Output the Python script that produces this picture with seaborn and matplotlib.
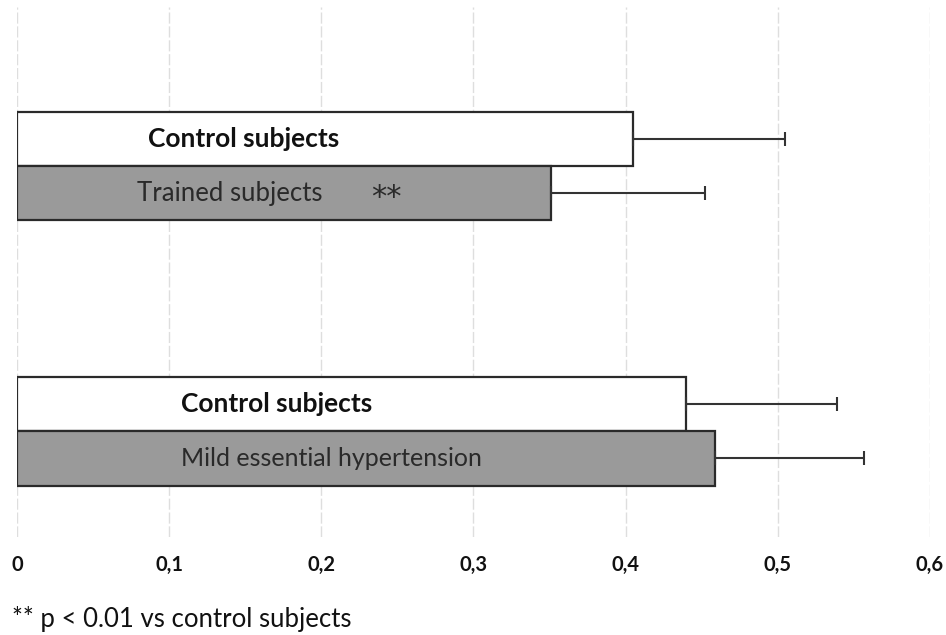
import matplotlib
matplotlib.use("Agg")
import matplotlib.pyplot as plt
import seaborn as sns
import pandas as pd
import numpy as np

# ---- data ----
groups = ["Training study", "Hypertension study"]
group_of = ["Training study", "Training study", "Hypertension study", "Hypertension study"]
kind = ["control", "treated", "control", "treated"]
values = [0.405, 0.351, 0.440, 0.459]
errors = [0.100, 0.101, 0.099, 0.098]
bar_labels = ["Control subjects", "Trained subjects", "Control subjects", "Mild essential hypertension"]
x_ticks = [0, 0.1, 0.2, 0.3, 0.4, 0.5, 0.6]
x_tick_labels = ["0", "0,1", "0,2", "0,3", "0,4", "0,5", "0,6"]
footnote = "** p < 0.01 vs control subjects"

df = pd.DataFrame({"group": group_of, "kind": kind, "value": values})

sns.set_theme(style="white")
plt.rcParams["font.family"] = ["Lato", "DejaVu Sans"]

fig = plt.figure(figsize=(9.46, 6.35), dpi=100)
ax = fig.add_axes([0.018, 0.154, 0.965, 0.835])

sns.barplot(data=df, y="group", x="value", hue="kind", order=groups,
            hue_order=["control", "treated"],
            palette={"control": "#ffffff", "treated": "#9a9a9a"},
            orient="h", width=0.41, edgecolor="#2a2a2a", linewidth=1.6,
            errorbar=None, legend=False, ax=ax)

bars = sorted(ax.patches, key=lambda p: p.get_y())
for p, v, e in zip(bars, values, errors):
    yc = p.get_y() + p.get_height() / 2
    ax.errorbar(v, yc, xerr=[[0], [e]], fmt="none", ecolor="#333333",
                elinewidth=1.5, capsize=5, capthick=1.5, zorder=1)

label_x = [0.086, 0.079, 0.108, 0.108]
label_w = ["bold", "normal", "bold", "normal"]
label_s = [19, 18.5, 19, 18]
label_c = ["#111111", "#2a2a2a", "#111111", "#2a2a2a"]
for p, t, lx, w, s, c in zip(bars, bar_labels, label_x, label_w, label_s, label_c):
    yc = p.get_y() + p.get_height() / 2
    ax.text(lx, yc, t, ha="left", va="center", fontsize=s, fontweight=w, color=c, zorder=3)
p = bars[1]
ax.text(0.233, p.get_y() + p.get_height() / 2 + 0.015, "**", ha="left", va="center",
        fontsize=22, color="#2a2a2a", zorder=3, family="DejaVu Sans")

ax.set_xlim(0, 0.6)
ax.set_ylim(1.4, -0.6)
ax.set_xticks(x_ticks)
ax.set_xticklabels(x_tick_labels, fontsize=14.5, fontweight="bold", color="#111111")
ax.set_yticks([])
ax.set_xlabel("")
ax.set_ylabel("")
ax.tick_params(axis="x", length=0, pad=13)
ax.grid(axis="x", color="#dedede", linewidth=1.0, linestyle=(0, (8, 2)))
ax.set_axisbelow(True)
for s in ax.spines.values():
    s.set_visible(False)

fig.text(0.013, 0.005, footnote, fontsize=18.5, color="#111111", ha="left", va="bottom")

fig.savefig("out.png", dpi=100)
